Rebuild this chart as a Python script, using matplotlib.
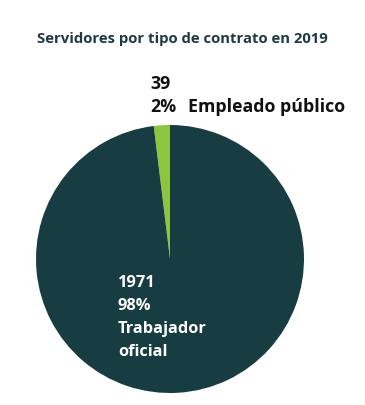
import matplotlib
matplotlib.use('Agg')
import matplotlib.pyplot as plt

# Data
categories = ['Empleado público', 'Trabajador oficial']
counts = [39, 1971]
percents = ['2%', '98%']
colors = ['#8cc63f', '#173c42']

W, H = 365, 406
fig = plt.figure(figsize=(W / 100, H / 100), dpi=100)

# Pie axes placed in pixels: center (170, 260), radius 134
cx, cy, r = 170, 260, 134
ax = fig.add_axes([(cx - r) / W, (H - cy - r) / H, 2 * r / W, 2 * r / H])
ax.pie(counts, colors=colors, startangle=90, counterclock=True,
       wedgeprops={'linewidth': 0})
ax.set_xlim(-1, 1)
ax.set_ylim(-1, 1)
ax.set_aspect('auto')
ax.axis('off')

def px(x, y):
    return x / W, 1 - y / H

fig.text(*px(182, 39), 'Servidores por tipo de contrato en 2019', ha='center', va='center',
         fontsize=10.7, fontweight='bold', color='#1f3a42', family='Open Sans')

# small slice label
lab = dict(ha='left', va='center', fontsize=12.8, fontweight='bold', color='#111111',
           family='Open Sans')
fig.text(*px(150, 84), str(counts[0]), **lab)
fig.text(*px(150, 107), percents[0], **lab)
fig.text(*px(188, 107), categories[0], **lab)

# big slice label
lines = [str(counts[1]), percents[1], 'Trabajador', 'oficial']
for i, t in enumerate(lines):
    fig.text(*px(118, 283 + i * 23), t, ha='left', va='center', fontsize=11.8,
             fontweight='bold', color='white', family='Open Sans')

fig.savefig('out.png', dpi=100)
